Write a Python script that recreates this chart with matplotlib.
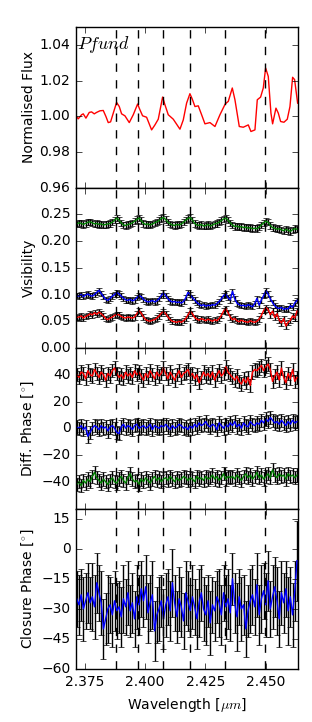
import matplotlib
matplotlib.use("Agg")
import matplotlib.pyplot as plt
import numpy as np
from matplotlib.ticker import FormatStrFormatter

plt.style.use('classic')
plt.rcParams['mathtext.fontset'] = 'cm'
plt.rcParams['font.size'] = 10

# Pfund line positions (dashed markers)
pf_lines = [2.3880, 2.3969, 2.4073, 2.4187, 2.4332, 2.4498]

# normalised flux spectrum
flux_wl = [2.37154, 2.37223, 2.37362, 2.37431, 2.37542, 2.37680, 2.37777, 2.37887,
           2.37984, 2.38122, 2.38261, 2.38372, 2.38468, 2.38565, 2.38676, 2.38814,
           2.38925, 2.39022, 2.39160, 2.39340, 2.39506, 2.39686, 2.39782, 2.39893,
           2.40059, 2.40267, 2.40405, 2.40543, 2.40723, 2.40820, 2.40958, 2.41166,
           2.41443, 2.41581, 2.41719, 2.41857, 2.41954, 2.42065, 2.42203, 2.42342,
           2.42480, 2.42688, 2.42896, 2.43103, 2.43324, 2.43449, 2.43615, 2.43725,
           2.43905, 2.44071, 2.44279, 2.44389, 2.44555, 2.44652, 2.44790, 2.44901,
           2.44998, 2.45108, 2.45219, 2.45288, 2.45427, 2.45524, 2.45621, 2.45759,
           2.45897, 2.46008, 2.46118, 2.46201, 2.46326]
flux = [0.9998, 0.9985, 1.0008, 1.0013, 0.9989, 1.0021, 1.0024, 1.0013,
        1.0021, 1.0030, 1.0032, 0.9998, 0.9964, 0.9968, 1.0017, 1.0077,
        1.0054, 1.0013, 1.0002, 0.9964, 1.0008, 1.0068, 1.0036, 1.0002,
        0.9994, 0.9923, 0.9951, 0.9983, 1.0107, 1.0064, 1.0008, 0.9983,
        0.9927, 0.9979, 1.0073, 1.0126, 1.0096, 1.0054, 1.0058, 1.0008,
        0.9957, 0.9964, 0.9942, 1.0008, 1.0069, 1.0083, 1.0158, 1.0092,
        0.9942, 0.9938, 0.9951, 0.9914, 0.9923, 1.0092, 1.0107, 1.0158,
        1.0270, 1.0223, 1.0017, 0.9957, 1.0045, 1.0017, 0.9970, 0.9966,
        0.9983, 1.0054, 1.0218, 1.0205, 1.0073]

# spectral channels for interferometric quantities
wl_start, wl_stop, n_chan = 2.3716, 2.4630, 100
wl = np.linspace(wl_start, wl_stop, n_chan)

vis_green = [0.232, 0.234, 0.233, 0.231, 0.233, 0.235, 0.236, 0.234, 0.232, 0.233,
             0.231, 0.232, 0.230, 0.231, 0.232, 0.233, 0.235, 0.239, 0.243, 0.239,
             0.234, 0.230, 0.229, 0.231, 0.232, 0.234, 0.237, 0.240, 0.243, 0.238,
             0.233, 0.231, 0.232, 0.230, 0.232, 0.234, 0.236, 0.238, 0.242, 0.244,
             0.240, 0.235, 0.232, 0.230, 0.229, 0.231, 0.230, 0.232, 0.235, 0.239,
             0.242, 0.244, 0.239, 0.233, 0.230, 0.229, 0.231, 0.228, 0.229, 0.231,
             0.228, 0.230, 0.232, 0.233, 0.235, 0.238, 0.241, 0.243, 0.239, 0.234,
             0.230, 0.227, 0.228, 0.226, 0.227, 0.225, 0.226, 0.224, 0.225, 0.223,
             0.224, 0.223, 0.226, 0.230, 0.234, 0.237, 0.235, 0.229, 0.225, 0.224,
             0.222, 0.223, 0.221, 0.219, 0.222, 0.220, 0.218, 0.221, 0.223, 0.222]
vis_blue = [0.098, 0.097, 0.100, 0.096, 0.099, 0.101, 0.098, 0.097, 0.100, 0.104,
            0.108, 0.102, 0.096, 0.091, 0.089, 0.093, 0.097, 0.100, 0.104, 0.101,
            0.097, 0.093, 0.090, 0.089, 0.091, 0.088, 0.090, 0.094, 0.098, 0.096,
            0.091, 0.088, 0.086, 0.087, 0.089, 0.086, 0.088, 0.092, 0.098, 0.103,
            0.098, 0.092, 0.088, 0.086, 0.087, 0.085, 0.086, 0.084, 0.087, 0.094,
            0.104, 0.100, 0.094, 0.090, 0.085, 0.082, 0.079, 0.081, 0.078, 0.080,
            0.079, 0.081, 0.080, 0.083, 0.087, 0.092, 0.098, 0.101, 0.094, 0.090,
            0.106, 0.092, 0.084, 0.081, 0.079, 0.080, 0.078, 0.081, 0.079, 0.077,
            0.083, 0.093, 0.080, 0.090, 0.098, 0.107, 0.101, 0.092, 0.085, 0.079,
            0.075, 0.074, 0.076, 0.072, 0.074, 0.073, 0.079, 0.076, 0.084, 0.089]
vis_red = [0.057, 0.058, 0.060, 0.056, 0.059, 0.061, 0.064, 0.062, 0.066, 0.063,
           0.067, 0.064, 0.060, 0.055, 0.053, 0.056, 0.058, 0.061, 0.063, 0.062,
           0.059, 0.057, 0.056, 0.058, 0.057, 0.056, 0.058, 0.064, 0.070, 0.065,
           0.058, 0.053, 0.051, 0.050, 0.052, 0.053, 0.056, 0.060, 0.065, 0.068,
           0.064, 0.058, 0.053, 0.050, 0.049, 0.048, 0.050, 0.048, 0.051, 0.055,
           0.062, 0.069, 0.064, 0.057, 0.054, 0.052, 0.055, 0.053, 0.051, 0.054,
           0.052, 0.050, 0.053, 0.051, 0.055, 0.061, 0.069, 0.074, 0.066, 0.058,
           0.053, 0.055, 0.051, 0.049, 0.052, 0.050, 0.049, 0.048, 0.051, 0.049,
           0.048, 0.050, 0.054, 0.061, 0.070, 0.076, 0.072, 0.062, 0.069, 0.057,
           0.064, 0.052, 0.047, 0.055, 0.041, 0.048, 0.052, 0.060, 0.056, 0.069]
vis_err = [0.006, 0.005, 0.005]

dp_red = [40, 38, 42, 41, 37, 43, 40, 39, 44, 41,
          38, 42, 40, 36, 41, 39, 43, 45, 41, 38,
          40, 37, 42, 39, 41, 38, 43, 40, 42, 39,
          36, 41, 38, 43, 40, 37, 42, 39, 41, 45,
          41, 37, 42, 39, 36, 40, 43, 38, 41, 42,
          44, 39, 41, 37, 40, 34, 38, 42, 39, 41,
          38, 42, 36, 40, 43, 39, 41, 46, 42, 40,
          38, 36, 39, 35, 33, 37, 34, 38, 32, 42,
          44, 43, 45, 47, 43, 46, 48, 44, 35, 39,
          42, 36, 45, 38, 34, 41, 37, 44, 35, 38]
dp_blue = [1, 0, 2, -1, 1, -6, -3, 0, 2, 1,
           -1, 2, 0, 1, -2, 1, 2, 0, -3, -4,
           1, 3, 0, 2, 1, -1, 2, 3, 0, 1,
           2, 0, 1, 3, -1, 2, 1, 0, 2, 1,
           3, 1, -1, 2, 0, 1, 3, 2, 0, 1,
           -1, 2, 0, 3, 1, 4, 2, 3, 5, 2,
           1, 3, 2, -1, 4, 2, 0, 3, 1, 4,
           2, 5, 1, 3, 0, 4, 2, 1, 5, 3,
           2, 4, 3, 6, 4, 7, 5, 8, 6, 4,
           5, 3, 6, 4, 2, 5, 3, 6, 4, 5]
dp_green = [-42, -40, -43, -39, -41, -38, -40, -36, -33, -37,
            -39, -41, -38, -40, -42, -39, -37, -40, -41, -38,
            -36, -39, -41, -37, -34, -38, -40, -39, -42, -38,
            -40, -37, -39, -41, -38, -36, -39, -37, -40, -38,
            -37, -39, -36, -38, -40, -37, -39, -38, -36, -37,
            -39, -37, -38, -40, -36, -38, -37, -39, -36, -38,
            -37, -35, -38, -36, -39, -37, -34, -38, -36, -37,
            -36, -38, -35, -37, -39, -36, -34, -37, -35, -38,
            -36, -33, -37, -35, -38, -36, -34, -37, -31, -35,
            -37, -34, -36, -35, -38, -34, -36, -35, -37, -35]
dp_err = 5

cp = [-25, -28, -23, -30, -26, -22, -27, -24, -29, -17,
      -22, -27, -40, -35, -30, -28, -33, -26, -31, -29,
      -34, -25, -29, -22, -31, -27, -35, -24, -28, -20,
      -26, -19, -32, -27, -23, -41, -33, -30, -26, -35,
      -28, -24, -31, -17, -27, -34, -25, -29, -36, -22,
      -26, -31, -24, -29, -35, -27, -22, -30, -33, -26,
      -37, -28, -31, -24, -27, -33, -22, -29, -25, -32,
      -15, -27, -34, -24, -30, -28, -40, -31, -26, -23,
      -29, -18, -33, -25, -21, -28, -16, -30, -24, -19,
      -26, -35, -22, -27, -20, -31, -24, -33, -21, -6]
cp_err = [14, 15, 13, 16, 14, 15, 13, 17, 16, 15,
          14, 16, 15, 13, 17, 14, 16, 15, 14, 13,
          15, 17, 14, 16, 13, 15, 14, 16, 15, 14,
          13, 16, 15, 14, 17, 15, 14, 16, 13, 15,
          16, 14, 15, 17, 14, 13, 16, 15, 14, 16,
          15, 13, 16, 14, 15, 17, 14, 16, 15, 13,
          16, 14, 15, 13, 17, 15, 14, 16, 15, 14,
          13, 15, 17, 14, 16, 15, 14, 13, 16, 15,
          14, 16, 15, 17, 14, 16, 15, 14, 16, 15,
          17, 14, 16, 15, 14, 17, 15, 16, 15, 20]

dpi = 100
fig = plt.figure(figsize=(3.12, 7.22), dpi=dpi, facecolor='white')
fig.subplots_adjust(left=0.2436, right=0.955, top=0.9626, bottom=0.0734, hspace=0)
axes = [fig.add_subplot(4, 1, i + 1) for i in range(4)]
xlim = (2.3713, 2.4634)

ax = axes[0]
ax.plot(flux_wl, flux, color='r', lw=1)
ax.set_ylim(0.96, 1.05)
ax.set_yticks([0.96, 0.98, 1.00, 1.02, 1.04])
ax.yaxis.set_major_formatter(FormatStrFormatter('%.2f'))
ax.set_ylabel('Normalised Flux')
ax.text(0.005, 0.865, r'$Pfund$', transform=ax.transAxes, fontsize=13)

ax = axes[1]
for v, c, e in zip([vis_green, vis_blue, vis_red], ['g', 'b', 'r'], vis_err):
    ax.errorbar(wl, v, yerr=e, fmt='none', ecolor='k', elinewidth=1, capsize=2.5)
    ax.plot(wl, v, color=c, lw=1)
ax.set_ylim(0.0, 0.30)
ax.set_yticks([0.0, 0.05, 0.10, 0.15, 0.20, 0.25])
ax.yaxis.set_major_formatter(FormatStrFormatter('%.2f'))
ax.set_ylabel('Visibility')

ax = axes[2]
for d, c in zip([dp_red, dp_blue, dp_green], ['r', 'b', 'g']):
    ax.errorbar(wl, d, yerr=dp_err, fmt='none', ecolor='k', elinewidth=1, capsize=2.5)
    ax.plot(wl, d, color=c, lw=1)
ax.set_ylim(-60, 60)
ax.set_yticks([-40, -20, 0, 20, 40])
ax.set_ylabel(r'Diff. Phase [$^{\circ}$]')

ax = axes[3]
ax.errorbar(wl, cp, yerr=cp_err, fmt='none', ecolor='k', elinewidth=1, capsize=2.5)
ax.plot(wl, cp, color='b', lw=1)
ax.set_ylim(-60, 20)
ax.set_yticks([-60, -45, -30, -15, 0, 15])
ax.set_ylabel(r'Closure Phase [$^{\circ}$]')
ax.set_xlabel(r'Wavelength [$\mu m$]')

for i, ax in enumerate(axes):
    for l in pf_lines:
        ax.axvline(l, color='k', ls='--', lw=1)
    ax.set_xlim(*xlim)
    ax.set_xticks([2.375, 2.400, 2.425, 2.450])
    ax.xaxis.set_major_formatter(FormatStrFormatter('%.3f'))
    ax.tick_params(labelsize=10)
    ax.yaxis.set_label_coords(-0.18, 0.5)
    if i < 3:
        ax.tick_params(labelbottom=False)

plt.savefig("out.png", dpi=dpi)
plt.close(fig)
